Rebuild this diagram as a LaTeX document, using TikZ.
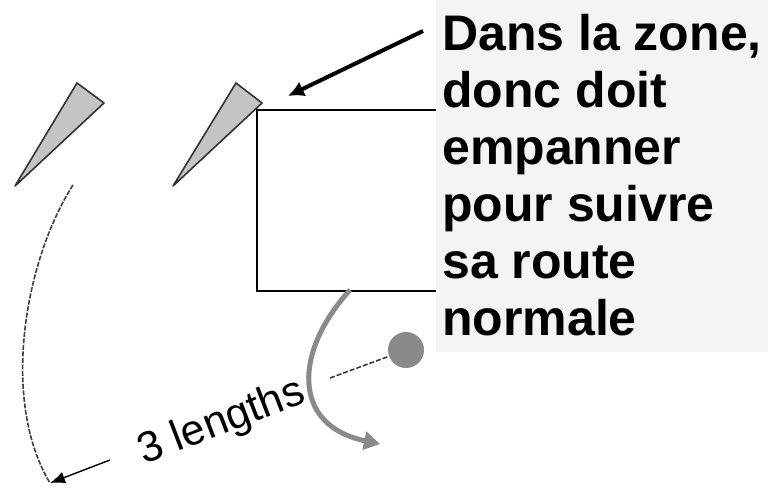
\documentclass[tikz,border=0pt]{standalone}
\usepackage{fontspec}
\setmainfont{Liberation Sans}
\usetikzlibrary{arrows.meta}
\definecolor{boxgray}{HTML}{F4F4F4}
\definecolor{boatfill}{HTML}{C4C4C4}
\definecolor{boatline}{HTML}{333333}
\definecolor{trackgray}{HTML}{8A8A8A}
\tikzset{
  boat/.style={draw=boatline, fill=boatfill, line width=1.6pt, line join=round},
  thickarrow/.style={line width=4pt, -{Latex[length=16pt,width=16pt]}},
}
\begin{document}
\begin{tikzpicture}[x=1pt,y=-1pt]
\useasboundingbox (0,0) rectangle (768,489);
\fill[white] (0,0) rectangle (768,489);
% boats
\draw[boat] (77,83) -- (104,103) -- (15,186) -- cycle;
\draw[boat] (236,83) -- (262,103) -- (173,186) -- cycle;
% rectangle zone
\draw[line width=1.3pt] (436,110) -- (257,110) -- (257,291) -- (436,291);
% text box
\fill[boxgray] (436,0) rectangle (768,352);
\node[anchor=base west, inner sep=0pt, align=left, font=\fontsize{50}{57}\selectfont\bfseries] (txt) at (442,335)
  {Dans la zone,\\donc doit\\empanner\\pour suivre\\sa route\\normale};
% black arrow
\coordinate (a1) at (423,31);
\coordinate (a2) at (288,96);
\draw[thickarrow] (a1) -- (a2);
% left track
\coordinate (l1) at (73,185);
\coordinate (l2) at (50,483);
\draw[color=black!75, line width=1.6pt, dash pattern=on 5pt off 1.5pt] (l1) .. controls (25,260) and (0,400) .. (l2);
% dimension arrow
\coordinate (d1) at (110,460);
\draw[line width=1.4pt, -{Latex[length=15pt,width=12pt]}] (d1) -- (l2);
% label
\node[rotate=21, font=\fontsize{43}{43}\selectfont, inner sep=0pt] (lbl) at (222,423) {3 lengths};
% gray track
\coordinate (g1) at (350,290);
\coordinate (g2) at (380,444);
\draw[trackgray, line width=5pt, -{Triangle[length=16pt,width=18pt]}] (g1) .. controls (295,350) and (290,425) .. (g2);
% mark
\node[circle, fill=trackgray, minimum size=36pt, inner sep=0pt] (dot) at (406,350) {};
\coordinate (m1) at (330,378);
\draw[black!80, line width=1.5pt, dash pattern=on 5pt off 2pt] (m1) -- (dot);
\end{tikzpicture}
\end{document}
